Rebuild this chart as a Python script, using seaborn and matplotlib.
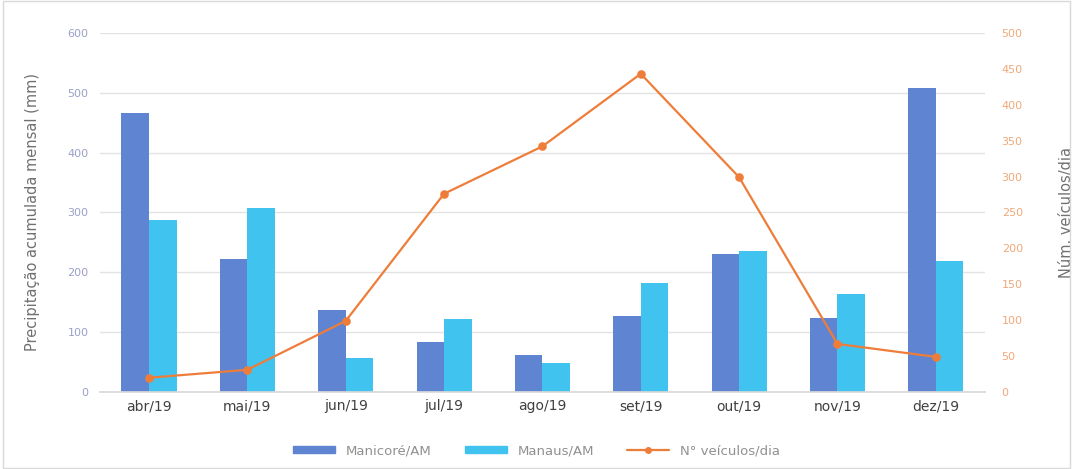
import matplotlib
matplotlib.use("Agg")
import matplotlib.pyplot as plt
import seaborn as sns
import pandas as pd
import numpy as np
from matplotlib.lines import Line2D
from matplotlib.patches import Patch

months = ["abr/19", "mai/19", "jun/19", "jul/19", "ago/19", "set/19", "out/19", "nov/19", "dez/19"]
manicore = [466, 222, 137, 84, 62, 127, 231, 124, 508]
manaus = [287, 308, 57, 122, 49, 182, 236, 164, 219]
veiculos = [20, 31, 99, 276, 342, 443, 299, 67, 49]

series_names = ["Manicoré/AM", "Manaus/AM"]
line_name = "N° veículos/dia"
c_manicore = "#5F84D2"
c_manaus = "#40C4EF"
c_line = "#EE7D3A"

sns.set_theme(style="white")
plt.rcParams['font.family'] = ['DejaVu Sans']

df = pd.DataFrame({
    "mes": months * 2,
    "valor": manicore + manaus,
    "serie": [series_names[0]] * len(months) + [series_names[1]] * len(months),
})

fig = plt.figure(figsize=(10.73, 4.69), dpi=100)
ax = fig.add_axes([0.093, 0.164, 0.825, 0.766])
sns.barplot(data=df, x="mes", y="valor", hue="serie", order=months,
            hue_order=series_names, palette=[c_manicore, c_manaus],
            width=0.56, gap=0, saturation=1, ax=ax, legend=False,
            linewidth=0, edgecolor="none")
ax.set_ylim(0, 600)
ax.set_xlim(-0.5, 8.5)
ax.set_yticks(np.arange(0, 601, 100))
ax.yaxis.grid(True, color="#e3e3e3", linewidth=1)
ax.set_axisbelow(True)
for s in ax.spines.values():
    s.set_visible(False)
ax.spines["bottom"].set_visible(True)
ax.spines["bottom"].set_color("#d9d9d9")
ax.set_xlabel("")
ax.set_ylabel("Precipitação acumulada mensal (mm)", color="#707070", fontsize=10.5, labelpad=20)
ax.tick_params(axis="y", colors="#9aa0c8", labelsize=8, length=0, pad=8)
ax.tick_params(axis="x", colors="#404040", labelsize=10, length=0, pad=5)

ax2 = ax.twinx()
sns.pointplot(x=months, y=veiculos, order=months, color=c_line, ax=ax2,
              markers="o", markersize=5, linewidth=1.6, errorbar=None)
ax2.set_ylim(0, 500)
ax2.set_xlim(-0.5, 8.5)
ax2.set_yticks(np.arange(0, 501, 50))
for s in ax2.spines.values():
    s.set_visible(False)
ax2.set_ylabel("Núm. veículos/dia", color="#707070", fontsize=10.5, labelpad=26)
ax2.tick_params(axis="y", colors="#f0a878", labelsize=8, length=0, pad=12)
ax2.grid(False)

handles = [Patch(color=c_manicore), Patch(color=c_manaus),
           Line2D([0], [0], color=c_line, marker="o", markersize=4, linewidth=1.6)]
fig.legend(handles, series_names + [line_name], loc="lower center",
           bbox_to_anchor=(0.5, 0.0), ncol=3, frameon=False, fontsize=9.5,
           labelcolor="#909090", handlelength=3.2, columnspacing=2.5,
           handleheight=0.5)

border = plt.Rectangle((0.003, 0.003), 0.994, 0.994, transform=fig.transFigure,
                       fill=False, edgecolor="#d9d9d9", linewidth=1)
fig.patches.append(border)

fig.savefig("out.png", dpi=100)
